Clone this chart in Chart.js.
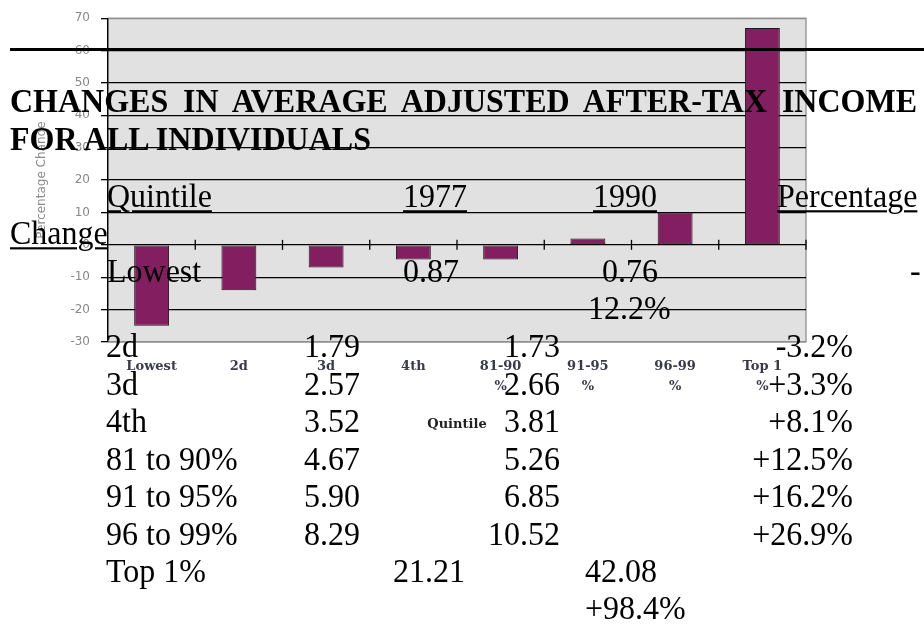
<!DOCTYPE html>
<html>
<head>
<meta charset="utf-8">
<script src="https://cdn.jsdelivr.net/npm/chart.js@4.4.1/dist/chart.umd.min.js"></script>
<style>
  html, body { margin: 0; padding: 0; background: #fff; }
  #page { position: relative; width: 924px; height: 624px; overflow: hidden; }
  #chartBox { position: absolute; left: 0; top: 0; width: 820px; height: 435px; }
  .t {
    position: absolute;
    font: 32px/32px "Liberation Serif", "Times New Roman", serif;
    color: #000;
    white-space: nowrap;
    transform: scaleY(1.08);
    transform-origin: 0 27px;
  }
  .b { font-weight: bold; }
  .u { text-decoration: underline; text-decoration-thickness: 2px; text-underline-offset: 3px; }
  .rule { position: absolute; left: 10px; top: 48px; width: 914px; height: 3px; background: #000; }
</style>
</head>
<body>
<div id="page">
  <div id="chartBox"><canvas id="grafico"></canvas></div>
  <div class="rule"></div>
</div>
<script>
// chart data
const quintiles = ["Lowest", "2d", "3d", "4th", ["81-90", "%"], ["91-95", "%"], ["96-99", "%"], ["Top 1", "%"]];
const pctChange = [-25, -14, -7, -4.5, -4.5, 2, 10, 67];
const yMin = -30, yMax = 70, yStep = 10;

// table text
const rowNames = ["Lowest", "2d", "3d", "4th", "81 to 90%", "91 to 95%", "96 to 99%", "Top 1%"];
const income1977 = ["0.87", "1.79", "2.57", "3.52", "4.67", "5.90", "8.29", "21.21"];
const income1990 = ["0.76", "1.73", "2.66", "3.81", "5.26", "6.85", "10.52", "42.08"];
const incomeChange = ["-12.2%", "-3.2%", "+3.3%", "+8.1%", "+12.5%", "+16.2%", "+26.9%", "+98.4%"];
const headers = ["Quintile", "1977", "1990", "Percentage", "Change"];

const page = document.getElementById("page");

function put(text, x, base, cls, right) {
  const d = document.createElement("div");
  d.className = "t " + (cls || "");
  d.textContent = text;
  d.style.top = (base - 27) + "px";
  if (right) d.style.right = (924 - x) + "px";
  else d.style.left = x + "px";
  page.appendChild(d);
  return d;
}

// title
let t1 = put("CHANGES IN AVERAGE ADJUSTED AFTER-TAX INCOME", 10, 112, "b");
t1.style.whiteSpace = "normal";
t1.style.width = "907px";
t1.style.textAlign = "justify";
t1.style.textAlignLast = "justify";
put("FOR ALL INDIVIDUALS", 10, 150, "b");

// header row
put(headers[0], 107, 207, "u");
put(headers[1], 403, 207, "u");
put(headers[2], 593, 207, "u");
put(headers[3], 777, 207, "u");
put(headers[4], 10, 244, "u");

// lowest row (wrapped oddly in the source)
put(rowNames[0], 107, 282);
put(income1977[0], 403, 282);
put(income1990[0], 602, 282);
put(incomeChange[0].slice(0, 1), 910, 282);
put(incomeChange[0].slice(1), 588, 319);

// regular rows
for (let i = 1; i <= 6; i++) {
  const base = 357 + 37.5 * (i - 1);
  put(rowNames[i], 106, base);
  put(income1977[i], 360, base, "", true);
  put(income1990[i], 560, base, "", true);
  put(incomeChange[i], 853, base, "", true);
}

// top 1%
put(rowNames[7], 106, 582);
put(income1977[7], 393, 582);
put(income1990[7], 585, 582);
put(incomeChange[7], 585, 619);

// plot background + border
const fundo = {
  id: "fundo",
  beforeDraw(chart) {
    const a = chart.chartArea, c = chart.ctx;
    c.save();
    c.fillStyle = "#e1e1e1";
    c.fillRect(a.left, a.top, a.right - a.left, a.bottom - a.top);
    c.strokeStyle = "#8f8f8f";
    c.lineWidth = 1.3;
    c.strokeRect(a.left, a.top, a.right - a.left, a.bottom - a.top);
    c.restore();
  }
};

// category tick marks crossing the zero line
const marcasZero = {
  id: "marcasZero",
  afterDraw(chart) {
    const x = chart.scales.x, y = chart.scales.y, c = chart.ctx;
    const y0 = y.getPixelForValue(0);
    const n = quintiles.length;
    c.save();
    c.strokeStyle = "#000";
    c.lineWidth = 1.3;
    for (let i = 1; i <= n; i++) {
      let px;
      if (i === n) px = chart.chartArea.right;
      else px = (x.getPixelForValue(i - 1) + x.getPixelForValue(i)) / 2;
      c.beginPath();
      c.moveTo(px, y0 - 5);
      c.lineTo(px, y0 + 5);
      c.stroke();
    }
    c.restore();
  }
};

new Chart(document.getElementById("grafico"), {
  type: "bar",
  data: {
    labels: quintiles,
    datasets: [{
      label: "Percentage Change",
      data: pctChange,
      backgroundColor: "#831f60",
      borderColor: "#1a1a1a",
      borderWidth: 1,
      borderSkipped: false,
      barPercentage: 0.4,
      categoryPercentage: 1.0
    }]
  },
  options: {
    responsive: true,
    maintainAspectRatio: false,
    animation: false,
    layout: { padding: { top: 9, right: 14, left: 0, bottom: 0 } },
    plugins: { legend: { display: false }, tooltip: { enabled: false } },
    scales: {
      x: {
        afterFit: s => { s.height = 93; },
        grid: { display: false, drawTicks: false },
        border: { display: false },
        ticks: {
          color: "#3a3a4a",
          padding: 15,
          maxRotation: 0,
          autoSkip: false,
          font: { family: "DejaVu Serif", size: 13, weight: "bold", lineHeight: 1.5 }
        },
        title: {
          display: true,
          text: "Quintile",
          color: "#222",
          padding: { top: 0, bottom: 3 },
          font: { family: "DejaVu Serif", size: 13, weight: "bold" }
        }
      },
      y: {
        min: yMin,
        max: yMax,
        afterFit: s => { s.width = 108; },
        ticks: {
          stepSize: yStep,
          color: "#888",
          padding: 11,
          font: { family: "DejaVu Sans", size: 12 }
        },
        grid: {
          color: ctx => (ctx.tick && (ctx.tick.value === yMax || ctx.tick.value === yMin)) ? "#8f8f8f" : "#000",
          tickColor: "#000",
          lineWidth: 1.3,
          tickLength: 7
        },
        border: { display: true, color: "#000", width: 1.3 },
        title: {
          display: true,
          text: "Percentage Change",
          color: "#8a8a8a",
          padding: { top: 35, bottom: 0 },
          font: { family: "DejaVu Sans", size: 12 }
        }
      }
    }
  },
  plugins: [fundo, marcasZero]
});
</script>
</body>
</html>
